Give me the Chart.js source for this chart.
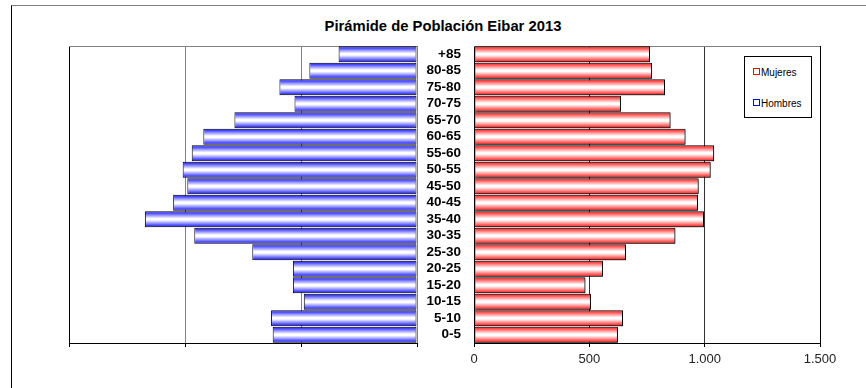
<!DOCTYPE html>
<html lang="es">
<head>
<meta charset="utf-8">
<title>Pirámide de Población Eibar 2013</title>
<script src="https://cdn.jsdelivr.net/npm/chart.js@4/dist/chart.umd.min.js"></script>
<style>
    html, body { margin: 0; padding: 0; background: #fff; overflow: hidden; }
    body { width: 866px; height: 388px; position: relative; font-family: 'Liberation Sans', Arial, sans-serif; }
    .capa { position: absolute; left: 0; top: 0; width: 866px; height: 388px; }
    #marco { position: absolute; left: 11px; top: 5px; width: 870px; height: 400px;
             border-top: 1px solid #808080; border-left: 1px solid #000; }
    #titulo { position: absolute; left: 10px; top: 18px; width: 866px; text-align: center;
              font-weight: bold; font-size: 14.8px; line-height: 17px; color: #000; }
    #leyenda { position: absolute; left: 744px; top: 56px; width: 66px; height: 60px;
               border: 1px solid #000; background: #fff; font-size: 10px; color: #000; z-index: 5; }
    .item { position: absolute; left: 8px; height: 12px; line-height: 12px; white-space: nowrap; }
    .item span { display: inline-block; width: 5px; height: 5px; border: 1px solid; background: #fff;
                 margin-right: 1px; vertical-align: 1px; }
</style>
</head>
<body>
<div id="marco"></div>
<div id="titulo">Pirámide de Población Eibar 2013</div>
<div class="capa"><canvas id="chartHombres"></canvas></div>
<div class="capa"><canvas id="chartMujeres"></canvas></div>
<div id="leyenda"></div>

<script>
// ── datos (de 0-5 hacia arriba) ──
const edades  = ['0-5', '5-10', '10-15', '15-20', '20-25', '25-30', '30-35', '35-40', '40-45',
                 '45-50', '50-55', '55-60', '60-65', '65-70', '70-75', '75-80', '80-85', '+85'];
const hombres = [622, 629, 488, 535, 535, 710, 960, 1173, 1051, 990, 1010, 971, 921, 787, 528, 593, 464, 338];
const mujeres = [624, 646, 507, 483, 559, 659, 873, 997, 971, 974, 1026, 1041, 917, 852, 637, 828, 772, 763];
const ticksX  = [0, 500, 1000, 1500];

const AZUL = '#0000ff';
const ROJO = '#ff0000';

Chart.defaults.font.family = "'Liberation Sans', Arial, sans-serif";
Chart.defaults.color = '#000';

// ── degradado de cada barra (color → blanco → color) ──
function gradienteBarra(c, color) {
    const chart = c.chart;
    const y = chart.scales.y;
    if (c.type !== 'data' || !y) return color;
    const centro = y.getPixelForValue(c.dataIndex);
    const medio = Math.abs(y.getPixelForValue(1) - y.getPixelForValue(0)) / 2;
    if (!isFinite(centro) || !isFinite(medio) || medio === 0) return color;
    const g = chart.ctx.createLinearGradient(0, centro - medio, 0, centro + medio);
    g.addColorStop(0, color);
    g.addColorStop(0.45, '#ffffff');
    g.addColorStop(0.55, '#ffffff');
    g.addColorStop(1, color);
    return g;
}

// miles con punto: 1000 -> 1.000
function formatoMiles(v) {
    return String(v).replace(/\B(?=(\d{3})+(?!\d))/g, '.');
}

// ── borde superior del área de trazado ──
const bordeSuperior = {
    id: 'bordeSuperior',
    beforeDatasetsDraw(chart) {
        const { ctx, chartArea: a } = chart;
        ctx.save();
        ctx.strokeStyle = '#808080';
        ctx.lineWidth = 1;
        ctx.beginPath();
        ctx.moveTo(a.left, Math.round(a.top) + 0.5);
        ctx.lineTo(a.right, Math.round(a.top) + 0.5);
        ctx.stroke();
        ctx.restore();
    }
};

// ── sombra gris de las barras ──
const sombra = {
    id: 'sombra',
    beforeDatasetsDraw(chart) {
        const ctx = chart.ctx;
        ctx.save();
        ctx.shadowColor = 'rgba(0,0,0,0.45)';
        ctx.shadowOffsetX = 2;
        ctx.shadowOffsetY = 1;
        ctx.shadowBlur = 0;
    },
    afterDatasetsDraw(chart) {
        chart.ctx.restore();
    }
};

function ejeX(reverse, colorGrid, mostrarTicks) {
    return {
        type: 'linear',
        min: 0,
        max: 1500,
        reverse,
        afterBuildTicks: s => { s.ticks = ticksX.map(v => ({ value: v })); },
        afterFit: s => { s.height = 45; },
        grid: {
            color: c => (c.tick && c.tick.value === 1500) ? '#000' : colorGrid,
            tickColor: '#000',
            tickLength: 4,
            drawTicks: true
        },
        border: { display: true, color: '#000', width: 1 },
        ticks: {
            display: mostrarTicks,
            padding: 5,
            color: '#222',
            font: { size: 13 },
            callback: v => formatoMiles(v)
        }
    };
}

const barraBase = {
    borderColor: '#000',
    borderWidth: 1,
    borderSkipped: false,
    barPercentage: 1,
    categoryPercentage: 0.97
};

// ── Hombres (izquierda, eje invertido) ──
const chartHombres = new Chart(document.getElementById('chartHombres'), {
    type: 'bar',
    data: {
        labels: edades,
        datasets: [{
            ...barraBase,
            label: 'Hombres',
            data: hombres,
            backgroundColor: c => gradienteBarra(c, AZUL)
        }]
    },
    options: {
        indexAxis: 'y',
        responsive: true,
        maintainAspectRatio: false,
        animation: false,
        events: [],
        layout: { padding: { left: 69, right: 449, top: 46, bottom: 0 } },
        plugins: { legend: { display: false }, title: { display: false }, tooltip: { enabled: false } },
        scales: {
            x: ejeX(true, '#808080', false),
            y: { reverse: true, display: false }
        }
    },
    plugins: [bordeSuperior]
});

// ── Mujeres (derecha, con las etiquetas de edad) ──
const chartMujeres = new Chart(document.getElementById('chartMujeres'), {
    type: 'bar',
    data: {
        labels: edades,
        datasets: [{
            ...barraBase,
            label: 'Mujeres',
            data: mujeres,
            backgroundColor: c => gradienteBarra(c, ROJO)
        }]
    },
    options: {
        indexAxis: 'y',
        responsive: true,
        maintainAspectRatio: false,
        animation: false,
        events: [],
        layout: { padding: { left: 417, right: 46, top: 46, bottom: 0 } },
        plugins: { legend: { display: false }, title: { display: false }, tooltip: { enabled: false } },
        scales: {
            x: ejeX(false, '#333333', true),
            y: {
                reverse: true,
                afterFit: s => { s.width = 57; },
                grid: { display: false, drawTicks: false },
                border: { display: true, color: '#000', width: 1 },
                ticks: { autoSkip: false, padding: 13, color: '#000', font: { size: 13.5, weight: 'bold' } }
            }
        }
    },
    plugins: [bordeSuperior, sombra]
});

// segunda pasada para que el degradado use las escalas ya colocadas
chartHombres.update('none');
chartMujeres.update('none');

// ── leyenda ──
const series = [
    { nombre: 'Mujeres', color: ROJO },
    { nombre: 'Hombres', color: AZUL }
];
const leyenda = document.getElementById('leyenda');
series.forEach((s, i) => {
    const item = document.createElement('div');
    item.className = 'item';
    item.style.top = (10 + i * 31) + 'px';
    const marca = document.createElement('span');
    marca.style.borderColor = s.color;
    item.appendChild(marca);
    item.appendChild(document.createTextNode(s.nombre));
    leyenda.appendChild(item);
});
</script>
</body>
</html>
